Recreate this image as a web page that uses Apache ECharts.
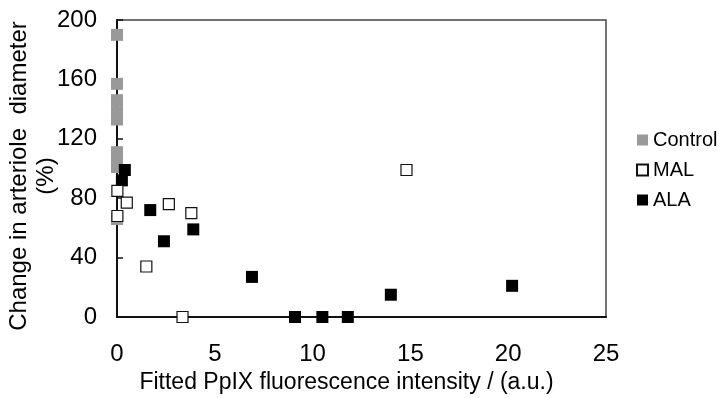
<!DOCTYPE html>
<html>
<head>
<meta charset="utf-8">
<script src="https://cdn.jsdelivr.net/npm/echarts@6/dist/echarts.min.js"></script>
<style>html,body{margin:0;padding:0;background:#fff}#c{width:721px;height:398px}</style>
</head>
<body>
<div id="c"></div>
<script>
var controlX = [0, 0, 0, 0, 0, 0, 0, 0, 0];
var controlY = [190, 157, 146, 138, 133, 111, 106, 101, 66];
var malX = [0.02, 0.02, 0.5, 1.5, 2.65, 3.8, 3.35, 14.8];
var malY = [85, 68, 77, 34, 76, 70, 0, 99];
var alaX = [0.4, 0.25, 1.7, 2.4, 3.9, 6.9, 9.1, 10.5, 11.8, 14.0, 20.2];
var alaY = [99, 92, 72, 51, 59, 27, 0, 0, 0, 15, 21];
var xTicks = [0, 5, 10, 15, 20, 25];
var yTicks = [0, 40, 80, 120, 160, 200];
var yTitle = 'Change in arteriole  diameter\n(%)';
var xTitle = 'Fitted PpIX fluorescence intensity / (a.u.)';

function pairs(xs, ys) { return xs.map(function (x, i) { return [x, ys[i]]; }); }

var font = 'Liberation Sans, Arial, sans-serif';

var chart = echarts.init(document.getElementById('c'));
chart.setOption({
  animation: false,
  grid: { left: 117, right: 115, top: 20, bottom: 81, show: true, borderColor: '#444', borderWidth: 1.5,
          containLabel: false, outerBoundsMode: 'none' },
  graphic: [{
    type: 'text', x: 33, y: 176, rotation: Math.PI / 2,
    style: { text: yTitle, fontFamily: font, fontSize: 24, fill: '#000', lineHeight: 27,
             align: 'center', verticalAlign: 'middle' }
  }],
  legend: {
    orient: 'vertical', left: 636, top: 130, padding: 0, itemGap: 10, itemWidth: 11, itemHeight: 11,
    icon: 'rect',
    textStyle: { fontFamily: font, fontSize: 20, color: '#000' },
    data: ['Control', 'MAL', 'ALA']
  },
  xAxis: {
    type: 'value', min: xTicks[0], max: xTicks[xTicks.length - 1], interval: 5,
    name: xTitle, nameLocation: 'middle', nameGap: 52,
    nameTextStyle: { fontFamily: font, fontSize: 23, color: '#000', padding: [0, 30, 0, 0] },
    axisLine: { lineStyle: { color: '#111', width: 2 } },
    axisTick: { show: false },
    axisLabel: { fontFamily: font, fontSize: 24, color: '#000', margin: 25 },
    splitLine: { show: false }
  },
  yAxis: {
    type: 'value', min: yTicks[0], max: yTicks[yTicks.length - 1], interval: 40,
    axisLine: { show: true, lineStyle: { color: '#111', width: 2 } },
    axisTick: { show: true, inside: true, length: 6, lineStyle: { color: '#111', width: 1.5 } },
    axisLabel: { fontFamily: font, fontSize: 24, color: '#000', margin: 20 },
    splitLine: { show: false }
  },
  series: [
    { name: 'Control', type: 'scatter', symbol: 'rect', symbolSize: 12, clip: false, z: 2,
      itemStyle: { color: '#999999', opacity: 1 }, data: pairs(controlX, controlY) },
    { name: 'MAL', type: 'scatter', symbol: 'rect', symbolSize: 11, clip: false, z: 4,
      itemStyle: { color: '#ffffff', borderColor: '#111', borderWidth: 1.2, opacity: 1 }, data: pairs(malX, malY) },
    { name: 'ALA', type: 'scatter', symbol: 'rect', symbolSize: 12, clip: false, z: 3,
      itemStyle: { color: '#000000', opacity: 1 }, data: pairs(alaX, alaY) }
  ]
});
</script>
</body>
</html>
